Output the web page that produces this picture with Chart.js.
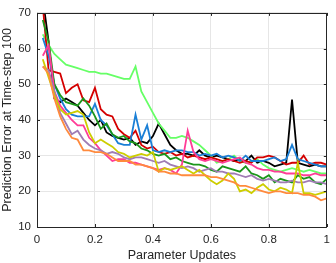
<!DOCTYPE html>
<html>
<head>
<meta charset="utf-8">
<script src="https://cdn.jsdelivr.net/npm/chart.js@4.4.1/dist/chart.umd.min.js"></script>
<style>
  html, body { margin: 0; padding: 0; background: #ffffff; }
  #wrap { width: 336px; height: 263px; position: relative; }
</style>
</head>
<body>
<div id="wrap"><canvas id="c" width="336" height="263"></canvas></div>
<script>
// ---- data ----
const xs = [0.02,0.04,0.06,0.08,0.10,0.12,0.14,0.16,0.18,0.20,
            0.22,0.24,0.26,0.28,0.30,0.32,0.34,0.36,0.38,0.40,
            0.42,0.44,0.46,0.48,0.50,0.52,0.54,0.56,0.58,0.60,
            0.62,0.64,0.66,0.68,0.70,0.72,0.74,0.76,0.78,0.80,
            0.82,0.84,0.86,0.88,0.90,0.92,0.94,0.96,0.98,1.00];

const xTicks = [0, 0.2, 0.4, 0.6, 0.8, 1];
const yTicks = [10, 20, 30, 40, 50, 60, 70];

const orangeVals = [55,53,46,41,37.5,35,34.5,31.5,31.5,31,31,30.5,29.5,28.5,28.5,28.5,27.5,27.5,27,26.5,
  25.5,25.5,25,25,24.5,24.5,24.5,24.5,24.5,24,24,23.5,23,22.5,21.5,21.5,21,20.5,20,19.5,
  20,20,19.5,19.5,19.5,19,19,18.5,17.5,18];
const yellowVals = [57,52,47,43,41.5,42,42.5,41.5,36.5,33.5,34.5,33.5,32.5,31,30.5,29.5,30,30.5,30,31,
  25.5,26.5,26,26.5,27,26,25,26,24.5,23,22,23,25,23.5,20,20.5,19.5,21,22,20.5,
  20,21,20.5,19.5,28,19.5,19.5,19,19.5,20];
const purpleVals = [55,54,48,42,39,36,37,34.5,33,32,31.5,30.5,31,30.5,29.5,29,29.5,29.5,29,28.5,
  28,28.5,27.5,27,26.5,27,26.5,25.5,26,26.5,25.5,25.5,25,25,24.5,24,24.5,23.5,23,23.5,
  23,22.5,22.5,23,22.5,22.5,23,22.5,22.5,22];
const pinkVals = [58,61,48,44,42,40,38.5,38.5,35,33.5,31.5,30,28.5,29,29,28,28,27.5,27,26.5,
  26,26.5,26,25,27.5,37,31,29,28.5,29,28.5,28,28.5,29,29.5,28,27.5,26.5,26,26,
  25.5,25.5,25,25,25,24.5,24.5,25,24.5,24.5];
const dgreenVals = [68,62,50,47,45,44.5,44,46,44,41,37.5,39,36,35,35.5,34,33.5,32,31.5,30.5,
  30,30.5,29,29.5,28.5,28,27.5,27.5,27,26,25.5,27,26.5,26,25.5,27,25,24.5,23.5,24.5,
  22.5,23.5,23,22.5,24.5,23.5,24,22.5,22,23.5];
const blueVals = [63,58,50,46,43,41.5,41,41,41,44.5,40,38.5,36,33.5,33,33,41.5,34.5,38.5,31.5,
  31,31.5,31,31.5,31.5,31,31,30,30.5,30,30.5,29.5,30,29.5,28.5,30,28.5,28.5,28.5,29,
  29.5,28.5,29,33,29,28.5,28,27.5,27,27];
const redVals = [72,54,53.5,53,47.5,49,50,45.5,45,49,43,41.5,41,37.5,36,35,37,33,32,32.5,
  31,30.5,31,30,30.5,29.5,30,29.5,29,29.5,29,28.5,29,28.5,28,28.5,28,29.5,29.5,30,
  29.5,28.5,27.5,28,28,30,27.5,28,28,27.5];
const limeVals = [64,61,58.5,57,55.5,55,54.5,54,53.5,53.5,53,53,52.5,52,51.5,51.5,55,48,45,42,
  39,37,35,35,35.5,35,34,33,31.5,30,28,28.5,29,30,28.5,28,28.5,29,27.5,26.5,
  26,25.5,26,26.5,26,25.5,26,25.5,25,25];
const blackVals = [74,62,46,45,46,45,44,42,40,38.5,40,36.5,35.5,35,34.5,35,33,34,33.5,35.5,
  39,36,33,31.5,30.5,30.5,30,31.5,30,29.5,30,29.5,29,28.5,29,28.5,30,28,28.5,28,
  27,27.5,28,45.7,28,27.5,27,27.5,27,27];

const seriesNames  = ['orange','yellow','purple','pink','dgreen','blue','red','lime','black'];
const seriesValues = [orangeVals, yellowVals, purpleVals, pinkVals, dgreenVals, blueVals, redVals, limeVals, blackVals];
const seriesColors = ['#ff8a3d','#cdcd00','#a07cb4','#ff3c96','#1a961a','#1a7fd6','#d40000','#66ff66','#000000'];

// ---- chart ----
const axisColor = '#262626';
const fontFam = 'Liberation Sans, Arial, sans-serif';
const datasets = seriesValues.map((vals, i) => ({
  label: seriesNames[i],
  data: vals.map((v, j) => ({x: xs[j], y: v})),
  borderColor: seriesColors[i],
  backgroundColor: seriesColors[i],
  borderWidth: 1.8,
  pointRadius: 0,
  tension: 0,
  fill: false
}));

const boxPlugin = {
  id: 'box',
  afterDatasetsDraw(chart) {
    const {ctx, chartArea: a, scales: {x, y}} = chart;
    ctx.save();
    ctx.strokeStyle = axisColor;
    ctx.lineWidth = 1;
    ctx.beginPath();
    ctx.rect(Math.round(a.left) + 0.5, Math.round(a.top) + 0.5,
             Math.round(a.right - a.left) - 1, Math.round(a.bottom - a.top));
    const tl = 3;
    xTicks.forEach(v => {
      const px = Math.round(x.getPixelForValue(v)) + 0.5;
      ctx.moveTo(px, a.bottom); ctx.lineTo(px, a.bottom - tl);
      ctx.moveTo(px, a.top); ctx.lineTo(px, a.top + tl);
    });
    yTicks.forEach(v => {
      const py = Math.round(y.getPixelForValue(v)) + 0.5;
      ctx.moveTo(a.left, py); ctx.lineTo(a.left + tl, py);
      ctx.moveTo(a.right, py); ctx.lineTo(a.right - tl, py);
    });
    ctx.stroke();
    ctx.restore();
  }
};

new Chart(document.getElementById('c'), {
  type: 'line',
  data: { datasets },
  options: {
    responsive: false,
    animation: false,
    devicePixelRatio: 1,
    layout: { padding: { left: 0, right: 9, top: 7, bottom: 0 } },
    plugins: { legend: { display: false }, tooltip: { enabled: false } },
    scales: {
      x: {
        type: 'linear', min: 0, max: 1,
        afterBuildTicks: s => { s.ticks = xTicks.map(v => ({value: v})); },
        afterFit: s => { s.height = 36; },
        grid: { color: '#e6e6e6', lineWidth: 1, drawTicks: false },
        border: { display: false },
        ticks: { color: axisColor, padding: 6, maxRotation: 0,
                 font: { family: fontFam, size: 11.5 },
                 callback: v => String(v) },
        title: { display: true, text: 'Parameter Updates', color: axisColor,
                 font: { family: fontFam, size: 12.5 },
                 padding: { top: 0, bottom: 0 } }
      },
      y: {
        type: 'linear', min: 10, max: 70,
        afterBuildTicks: s => { s.ticks = yTicks.map(v => ({value: v})); },
        afterFit: s => { s.width = 37; },
        grid: { color: '#e6e6e6', lineWidth: 1, drawTicks: false },
        border: { display: false },
        ticks: { color: axisColor, padding: 6,
                 font: { family: fontFam, size: 11.5 },
                 callback: v => String(v) },
        title: { display: true, text: 'Prediction Error at Time-step 100', color: axisColor,
                 font: { family: fontFam, size: 12.5 },
                 padding: { top: 0, bottom: 0 } }
      }
    }
  },
  plugins: [boxPlugin]
});
</script>
</body>
</html>
